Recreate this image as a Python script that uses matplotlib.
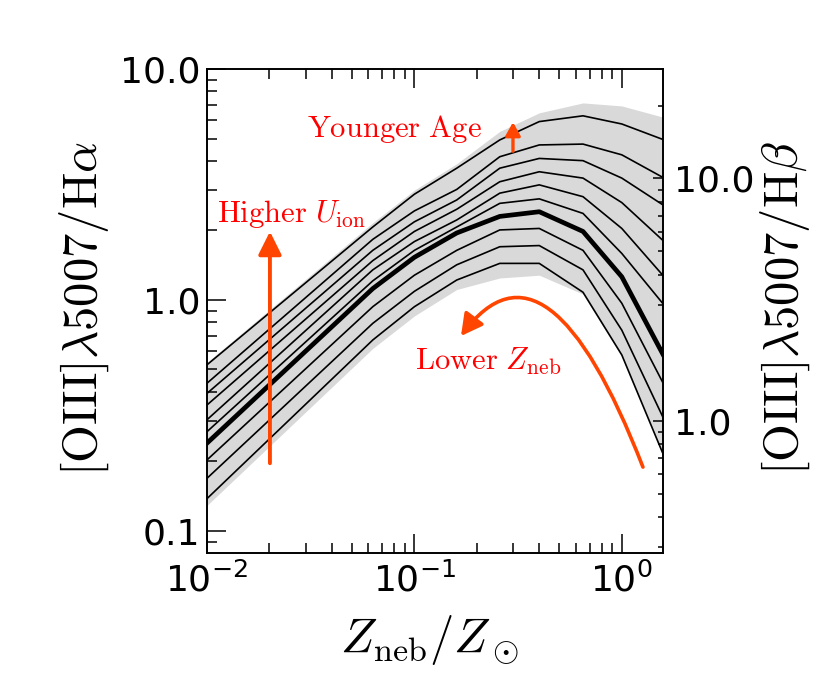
import numpy as np
import matplotlib
matplotlib.use('Agg')
import matplotlib.pyplot as plt
from matplotlib.ticker import FixedLocator, FuncFormatter, LogLocator, NullFormatter
from matplotlib.patches import FancyArrowPatch
from matplotlib.path import Path

plt.rcParams['mathtext.fontset'] = 'cm'
plt.rcParams['font.family'] = ['DejaVu Sans']

# ---------------- data ----------------
z_neb = [0.01, 0.063, 0.10, 0.16, 0.258, 0.40, 0.65, 1.0, 1.6]

line_1 = [0.524, 2.07, 2.87, 3.72, 4.93, 5.92, 6.27, 5.78, 4.93]
line_2 = [0.436, 1.83, 2.43, 3.01, 4.17, 4.69, 4.73, 4.25, 3.37]
line_3 = [0.394, 1.64, 2.18, 2.71, 3.72, 4.10, 4.01, 3.37, 2.56]
line_4 = [0.351, 1.48, 1.98, 2.47, 3.25, 3.59, 3.37, 2.64, 1.79]
line_5 = [0.303, 1.35, 1.79, 2.22, 2.90, 3.15, 2.80, 2.04, 1.26]
line_6 = [0.269, 1.21, 1.64, 2.07, 2.62, 2.74, 2.37, 1.59, 0.95]
fiducial = [0.240, 1.12, 1.53, 1.95, 2.30, 2.41, 1.98, 1.26, 0.569]
line_8 = [0.203, 0.935, 1.28, 1.64, 2.01, 2.04, 1.64, 0.968, 0.428]
line_9 = [0.169, 0.792, 1.09, 1.42, 1.70, 1.72, 1.35, 0.74, 0.303]
line_10 = [0.138, 0.671, 0.935, 1.22, 1.44, 1.44, 1.08, 0.578, 0.210]

thin_lines = [line_1, line_2, line_3, line_4, line_5, line_6, line_8, line_9, line_10]

band_hi = [0.537, 2.16, 2.99, 3.89, 5.37, 6.46, 7.13, 6.92, 6.17]
band_lo = [0.129, 0.617, 0.853, 1.11, 1.245, 1.28, 1.06, 0.569, 0.209]

left_ticks = [0.1, 1.0, 10.0]
right_ticks = [1.0, 10.0]

# ---------------- figure ----------------
fig = plt.figure(figsize=(8.3, 6.92), dpi=100)
ax = fig.add_axes([0.2494, 0.2013, 0.5494, 0.6990])

ax.fill_between(z_neb, band_lo, band_hi, color='0.85', lw=0, zorder=1)
for ln in thin_lines:
    ax.plot(z_neb, ln, color='black', lw=1.2, zorder=3)
ax.plot(z_neb, fiducial, color='black', lw=3.4, zorder=4)

ax.set_xscale('log')
ax.set_yscale('log')
ax.set_xlim(0.01, 1.58)
ax.set_ylim(0.0805, 10.0)

ax.yaxis.set_major_locator(FixedLocator(left_ticks))
ax.yaxis.set_major_formatter(FuncFormatter(lambda v, p: '%.1f' % v))
ax.yaxis.set_minor_locator(LogLocator(base=10, subs=np.arange(2, 10)))
ax.yaxis.set_minor_formatter(NullFormatter())

ax.tick_params(axis='x', which='both', direction='in', top=True, bottom=True,
               labelsize=26, pad=7)
ax.tick_params(axis='x', which='major', length=14, width=1.1)
ax.tick_params(axis='x', which='minor', length=7.2, width=1.1)
ax.tick_params(axis='y', which='both', direction='in', left=True, right=False,
               labelsize=26, pad=5)
ax.tick_params(axis='y', which='major', length=14, width=1.1)
ax.tick_params(axis='y', which='minor', length=7.2, width=1.1)
for s in ax.spines.values():
    s.set_linewidth(1.2)

ax2 = ax.twinx()
ax2.set_yscale('log')
ax2.set_ylim(0.285, 28.3)
ax2.yaxis.set_major_locator(FixedLocator(right_ticks))
ax2.yaxis.set_major_formatter(FuncFormatter(lambda v, p: '%.1f' % v))
ax2.yaxis.set_minor_locator(LogLocator(base=10, subs=np.arange(2, 10)))
ax2.yaxis.set_minor_formatter(NullFormatter())
ax2.tick_params(axis='y', which='both', direction='in', labelsize=26, pad=8)
ax2.tick_params(axis='y', which='major', length=7.2, width=1.1)
ax2.tick_params(axis='y', which='minor', length=3.6, width=1.1)
for s in ax2.spines.values():
    s.set_linewidth(1.2)

# axis labels
fig.text(84 / 830, 1 - 309 / 692, r'$[\mathrm{OIII}]\lambda5007/\mathrm{H}\alpha$',
         rotation=90, ha='center', va='center', fontsize=35)
fig.text(785 / 830, 1 - 308 / 692, r'$[\mathrm{OIII}]\lambda5007/\mathrm{H}\beta$',
         rotation=90, ha='center', va='center', fontsize=35)
fig.text(430 / 830, 1 - 640 / 692, r'$Z_\mathrm{neb}/Z_\odot$',
         ha='center', va='center', fontsize=35)

# annotations
txt_col = 'red'
arr_col = 'orangered'
ax.text(0.219, 0.859, r'$\mathrm{Younger\ Age}$', transform=ax.transAxes,
        ha='left', va='baseline', fontsize=22, color=txt_col, zorder=6)
ax.text(0.022, 0.684, r'$\mathrm{Higher}\ U_\mathrm{ion}$', transform=ax.transAxes,
        ha='left', va='baseline', fontsize=22, color=txt_col, zorder=6)
ax.text(0.456, 0.378, r'$\mathrm{Lower}\ Z_\mathrm{neb}$', transform=ax.transAxes,
        ha='left', va='baseline', fontsize=22, color=txt_col, zorder=6)

a1 = FancyArrowPatch((0.138, 0.185), (0.138, 0.664), transform=ax.transAxes,
                     arrowstyle='-|>,head_length=14,head_width=7', mutation_scale=1,
                     color=arr_col, lw=2.8, shrinkA=0, shrinkB=0, zorder=6)
ax.add_patch(a1)
a2 = FancyArrowPatch((0.671, 0.830), (0.671, 0.890), transform=ax.transAxes,
                     arrowstyle='-|>,head_length=8,head_width=4.5', mutation_scale=1,
                     color=arr_col, lw=2.4, shrinkA=0, shrinkB=0, zorder=6)
ax.add_patch(a2)
curve = Path([(0.956, 0.177), (0.746, 0.688), (0.557, 0.448)],
             [Path.MOVETO, Path.CURVE3, Path.CURVE3])
a3 = FancyArrowPatch(path=curve, transform=ax.transAxes,
                     arrowstyle='-|>,head_length=13,head_width=7', mutation_scale=1,
                     color=arr_col, lw=2.6, zorder=6)
ax.add_patch(a3)

fig.savefig('out.png', dpi=100)
